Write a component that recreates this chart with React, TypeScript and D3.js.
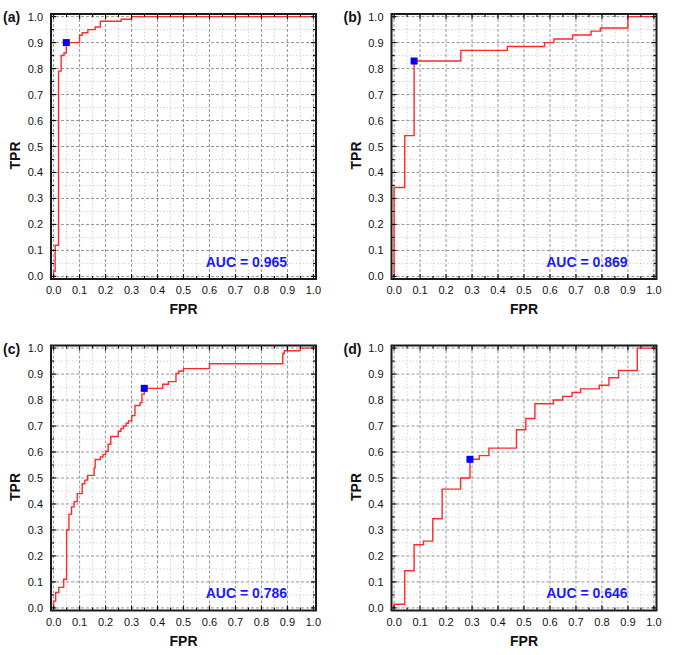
import React from "react";
import * as d3 from "d3";

const PANEL_LABELS = ["(a)", "(b)", "(c)", "(d)"];
const AUC_LABELS = ["AUC = 0.965", "AUC = 0.869", "AUC = 0.786", "AUC = 0.646"];

const FPR_A = [0, 0, 0.006, 0.019, 0.029, 0.04, 0.049, 0.1, 0.11, 0.132, 0.16, 0.18, 0.26, 0.3, 1.0];
const TPR_A = [0, 0.02, 0.12, 0.79, 0.85, 0.86, 0.9, 0.928, 0.938, 0.95, 0.96, 0.982, 0.99, 1.0, 1.0];

const FPR_B = [0, 0, 0.041, 0.077, 0.257, 0.436, 0.579, 0.615, 0.687, 0.758, 0.794, 0.9, 1.0];
const TPR_B = [0, 0.342, 0.542, 0.829, 0.87, 0.885, 0.9, 0.914, 0.929, 0.944, 0.956, 1.0, 1.0];

const FPR_C = [0, 0, 0.008, 0.02, 0.039, 0.05, 0.059, 0.069, 0.079, 0.091, 0.11, 0.12, 0.131, 0.156, 0.16, 0.18, 0.19, 0.2, 0.21, 0.22, 0.249, 0.259, 0.269, 0.279, 0.288, 0.301, 0.313, 0.333, 0.34, 0.349, 0.42, 0.442, 0.471, 0.482, 0.5, 0.6, 0.882, 0.888, 0.949, 1.0];
const TPR_C = [0, 0.026, 0.059, 0.079, 0.11, 0.3, 0.36, 0.389, 0.409, 0.44, 0.478, 0.492, 0.51, 0.539, 0.571, 0.581, 0.59, 0.603, 0.63, 0.66, 0.68, 0.69, 0.70, 0.711, 0.72, 0.74, 0.779, 0.79, 0.823, 0.845, 0.861, 0.871, 0.902, 0.912, 0.921, 0.94, 0.979, 0.99, 1.0, 1.0];

const FPR_D = [0, 0, 0.041, 0.077, 0.113, 0.149, 0.185, 0.256, 0.292, 0.328, 0.365, 0.471, 0.507, 0.542, 0.613, 0.649, 0.685, 0.718, 0.79, 0.827, 0.864, 0.936, 1.0];
const TPR_D = [0, 0.014, 0.143, 0.243, 0.257, 0.343, 0.457, 0.5, 0.572, 0.586, 0.615, 0.686, 0.729, 0.786, 0.8, 0.814, 0.829, 0.843, 0.857, 0.886, 0.914, 1.0, 1.0];

const MARK_FPR = [0.049, 0.077, 0.349, 0.292];
const MARK_TPR = [0.9, 0.829, 0.845, 0.572];

const TICKS = [0, 0.1, 0.2, 0.3, 0.4, 0.5, 0.6, 0.7, 0.8, 0.9, 1.0];
const MINOR = [0.05, 0.15, 0.25, 0.35, 0.45, 0.55, 0.65, 0.75, 0.85, 0.95];

const SERIES = [
  [FPR_A, TPR_A],
  [FPR_B, TPR_B],
  [FPR_C, TPR_C],
  [FPR_D, TPR_D],
];

const ORIGINS = [
  [51, 14],
  [391.5, 14],
  [51, 345.5],
  [391.5, 345.5],
];

const W = 265;
const H = 265;
const FONT = "'Liberation Sans', Arial, sans-serif";

function Panel({ idx }: { idx: number }) {
  const [ox, oy] = ORIGINS[idx];
  const x = d3.scaleLinear().domain([-0.01, 1.01]).range([0, W]);
  const y = d3.scaleLinear().domain([-0.01, 1.01]).range([H, 0]);
  const [fx, ty] = SERIES[idx];
  const pts: [number, number][] = fx.map((f, i) => [f, ty[i]]);
  const line = d3
    .line<[number, number]>()
    .x((d) => x(d[0]))
    .y((d) => y(d[1]))
    .curve(d3.curveStepAfter);
  const fmt = d3.format(".1f");
  return (
    <g transform={`translate(${ox},${oy})`}>
      <rect x={0} y={0} width={W} height={H} fill="#fff" />
      {MINOR.map((v) => (
        <g key={"mg" + v}>
          <line x1={x(v)} x2={x(v)} y1={0} y2={H} stroke="#c8c8c8" strokeWidth={0.8} strokeDasharray="1.5,2" />
          <line x1={0} x2={W} y1={y(v)} y2={y(v)} stroke="#c8c8c8" strokeWidth={0.8} strokeDasharray="1.5,2" />
        </g>
      ))}
      {TICKS.map((v) => (
        <g key={"g" + v}>
          <line x1={x(v)} x2={x(v)} y1={0} y2={H} stroke="#8a8a8a" strokeWidth={0.9} strokeDasharray="3,2" />
          <line x1={0} x2={W} y1={y(v)} y2={y(v)} stroke="#8a8a8a" strokeWidth={0.9} strokeDasharray="3,2" />
        </g>
      ))}
      <path d={line(pts) || ""} fill="none" stroke="#ff2a2a" strokeWidth={1.4} />
      <rect
        x={x(MARK_FPR[idx]) - 3.5}
        y={y(MARK_TPR[idx]) - 3.5}
        width={7}
        height={7}
        fill="#0000ff"
      />
      {TICKS.map((v) => (
        <g key={"t" + v} stroke="#111" strokeWidth={1.2}>
          <line x1={x(v)} x2={x(v)} y1={H} y2={H - 5} />
          <line x1={x(v)} x2={x(v)} y1={0} y2={5} />
          <line x1={0} x2={5} y1={y(v)} y2={y(v)} />
          <line x1={W} x2={W - 5} y1={y(v)} y2={y(v)} />
        </g>
      ))}
      {MINOR.map((v) => (
        <g key={"mt" + v} stroke="#111" strokeWidth={1.1}>
          <line x1={x(v)} x2={x(v)} y1={H} y2={H - 3} />
          <line x1={x(v)} x2={x(v)} y1={0} y2={3} />
          <line x1={0} x2={3} y1={y(v)} y2={y(v)} />
          <line x1={W} x2={W - 3} y1={y(v)} y2={y(v)} />
        </g>
      ))}
      <rect x={0} y={0} width={W} height={H} fill="none" stroke="#1a1a1a" strokeWidth={2} />
      {TICKS.map((v) => (
        <text key={"xl" + v} x={x(v)} y={H + 15} textAnchor="middle" fontFamily={FONT} fontSize={11} fill="#111">
          {fmt(v)}
        </text>
      ))}
      {TICKS.map((v) => (
        <text key={"yl" + v} x={-8} y={y(v) + 4} textAnchor="end" fontFamily={FONT} fontSize={11} fill="#111">
          {fmt(v)}
        </text>
      ))}
      <text x={W / 2} y={H + 35} textAnchor="middle" fontFamily={FONT} fontSize={14} fontWeight="bold" fill="#111">
        FPR
      </text>
      <text
        transform={`translate(${-31},${H / 2 + 9}) rotate(-90)`}
        textAnchor="middle"
        fontFamily={FONT}
        fontSize={14}
        fontWeight="bold"
        fill="#111"
      >
        TPR
      </text>
      <text x={-48} y={8} fontFamily={FONT} fontSize={14} fontWeight="bold" fill="#111">
        {PANEL_LABELS[idx]}
      </text>
      <text x={236} y={252.5} textAnchor="end" fontFamily={FONT} fontSize={14} fontWeight="bold" fill="#1a1aff">
        {AUC_LABELS[idx]}
      </text>
    </g>
  );
}

export default function App() {
  return (
    <svg
      width={685}
      height={655}
      style={{ position: "absolute", left: 0, top: 0, background: "#fff" }}
    >
      <rect width={685} height={655} fill="#fff" />
      {[0, 1, 2, 3].map((i) => (
        <Panel key={i} idx={i} />
      ))}
    </svg>
  );
}
